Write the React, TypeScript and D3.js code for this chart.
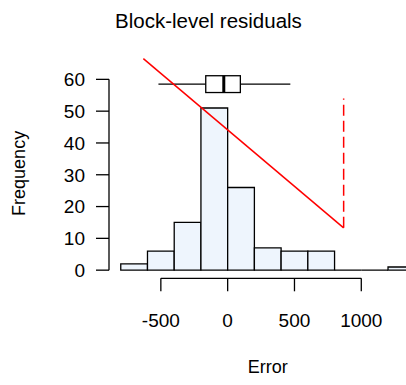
import React from "react";
import * as d3 from "d3";

// Histogram of block-level errors (bin edges and counts)
const breaks = [-800, -600, -400, -200, 0, 200, 400, 600, 800, 1000, 1200, 1400];
const counts = [2, 6, 15, 51, 26, 7, 6, 6, 0, 0, 1];

const xTicks = [-500, 0, 500, 1000];
const yTicks = [0, 10, 20, 30, 40, 50, 60];

// Horizontal boxplot summary: lower whisker, Q1, median, Q3, upper whisker
const boxStats = [-518, -164, -29, 95, 469];
const boxLevel = [58.5];

// Red reference line and the dashed cutoff marker
const refLineX = [-631, 868];
const refLineY = [66.5, 13.3];
const cutoffX = [868];
const cutoffY = [13.3, 54];

const W = 406;
const H = 385;
const FONT = "'Liberation Sans', Arial, Helvetica, sans-serif";

export default function App() {
  const xlim: [number, number] = [breaks[0], breaks[breaks.length - 1]];
  const ylim: [number, number] = [0, 64];
  const xpad = (xlim[1] - xlim[0]) * 0.04;
  const ypad = (ylim[1] - ylim[0]) * 0.04;

  const plotL = 109;
  const plotR = 426.5;
  const plotT = 58.5;
  const plotB = 278.3;

  const x = d3.scaleLinear().domain([xlim[0] - xpad, xlim[1] + xpad]).range([plotL, plotR]);
  const y = d3.scaleLinear().domain([ylim[0] - ypad, ylim[1] + ypad]).range([plotB, plotT]);

  const tickLen = 13;
  const lw = 1.3;

  const barPaths = counts.map((c, i) => {
    const x0 = x(breaks[i]);
    const x1 = x(breaks[i + 1]);
    const y0 = y(0);
    const y1 = y(c);
    return `M${x0},${y0}V${y1}H${x1}V${y0}Z`;
  });

  const line = d3
    .line<number>()
    .x((_, i) => x(refLineX[i]))
    .y((d) => y(d));

  const by = y(boxLevel[0]);
  const bh = 8.4;
  const [wLo, q1, med, q3, wHi] = boxStats;

  const yAxisX = plotL;
  const xAxisY = plotB;

  return (
    <svg
      width={W}
      height={H}
      style={{ position: "absolute", left: 0, top: 0, background: "#fff" }}
      fontFamily={FONT}
    >
      <rect x={0} y={0} width={W} height={H} fill="#fff" />

      {/* title */}
      <text x={115} y={28} fontSize={20.5} fill="#000">
        Block-level residuals
      </text>

      {/* bars */}
      {barPaths.map((d, i) => (
        <path key={i} d={d} fill="#EEF5FD" stroke="#000" strokeWidth={lw} />
      ))}

      {/* y axis */}
      <line x1={yAxisX} x2={yAxisX} y1={y(yTicks[0])} y2={y(yTicks[yTicks.length - 1])} stroke="#000" strokeWidth={lw} />
      {yTicks.map((t) => (
        <g key={t}>
          <line x1={yAxisX - tickLen} x2={yAxisX} y1={y(t)} y2={y(t)} stroke="#000" strokeWidth={lw} />
          <text x={85} y={y(t)} dy="0.36em" textAnchor="end" fontSize={19} fill="#000">
            {t}
          </text>
        </g>
      ))}

      {/* x axis */}
      <line x1={x(xTicks[0])} x2={x(xTicks[xTicks.length - 1])} y1={xAxisY} y2={xAxisY} stroke="#000" strokeWidth={lw} />
      {xTicks.map((t) => (
        <g key={t}>
          <line x1={x(t)} x2={x(t)} y1={xAxisY} y2={xAxisY + tickLen} stroke="#000" strokeWidth={lw} />
          <text x={x(t)} y={327} textAnchor="middle" fontSize={19} fill="#000">
            {t}
          </text>
        </g>
      ))}

      {/* axis titles */}
      <text x={(plotL + plotR) / 2} y={373} textAnchor="middle" fontSize={18} fill="#000">
        Error
      </text>
      <text
        transform={`translate(25,${(plotT + plotB) / 2 + 5}) rotate(-90)`}
        textAnchor="middle"
        fontSize={18}
        fill="#000"
      >
        Frequency
      </text>

      {/* boxplot */}
      <line x1={x(wLo)} x2={x(q1)} y1={by} y2={by} stroke="#000" strokeWidth={lw} />
      <line x1={x(q3)} x2={x(wHi)} y1={by} y2={by} stroke="#000" strokeWidth={lw} />
      <rect x={x(q1)} y={by - bh} width={x(q3) - x(q1)} height={2 * bh} fill="none" stroke="#000" strokeWidth={lw} />
      <line x1={x(med)} x2={x(med)} y1={by - bh} y2={by + bh} stroke="#000" strokeWidth={3} />

      {/* reference line and cutoff */}
      <path d={line(refLineY) || ""} fill="none" stroke="#FF0000" strokeWidth={1.5} />
      <line
        x1={x(cutoffX[0])}
        x2={x(cutoffX[0])}
        y1={y(cutoffY[0])}
        y2={y(cutoffY[1])}
        stroke="#FF0000"
        strokeWidth={1.5}
        strokeDasharray="11 5"
      />
    </svg>
  );
}
